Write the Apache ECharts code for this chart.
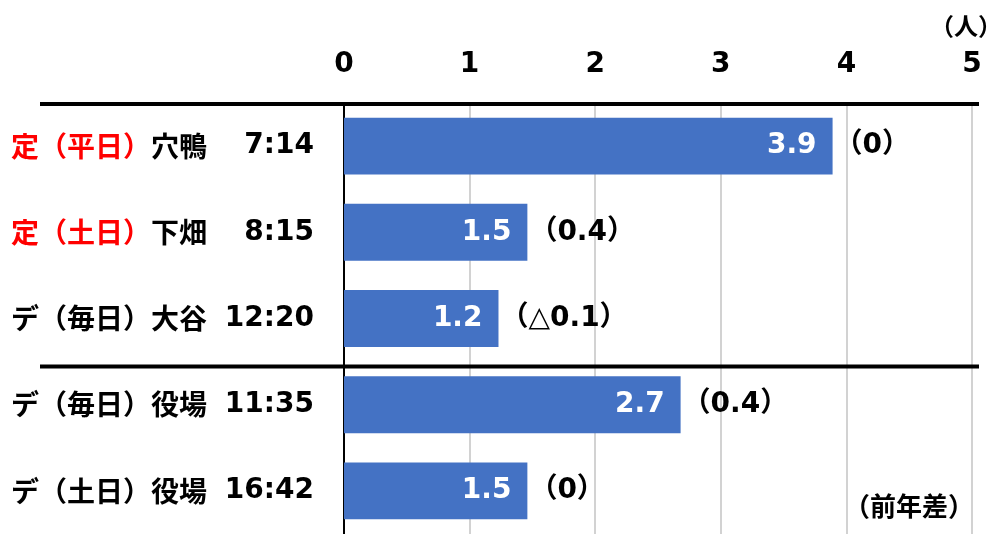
<!DOCTYPE html>
<html>
<head>
<meta charset="utf-8">
<script src="https://cdn.jsdelivr.net/npm/echarts@6/dist/echarts.min.js"></script>
<style>html,body{margin:0;padding:0;background:#fff;}#c{width:989px;height:534px;}</style>
</head>
<body>
<div id="c"></div>
<script>
const prefixes = ['定（平日）', '定（土日）', 'デ（毎日）', 'デ（毎日）', 'デ（土日）'];
const prefixRed = [true, true, false, false, false];
const places = ['穴鴨', '下畑', '大谷', '役場', '役場'];
const times = ['7:14', '8:15', '12:20', '11:35', '16:42'];
const values = [3.89, 1.46, 1.23, 2.68, 1.46];
const diffs = ['（0）', '（0.4）', '（△0.1）', '（0.4）', '（0）'];
const xTicks = [0, 1, 2, 3, 4, 5];
const unitText = '（人）';
const diffNote = '（前年差）';

const FONT = '"DejaVu Sans", "Noto Sans CJK JP", sans-serif';
const CJK = '"Noto Sans CJK JP", sans-serif';
const names = prefixes.map((p, i) => p + places[i]);

const chart = echarts.init(document.getElementById('c'), null, {renderer: 'canvas'});
const option = {
  animation: false,
  backgroundColor: '#ffffff',
  grid: {left: 344, right: 17, top: 103, bottom: 0, containLabel: false},
  xAxis: {
    type: 'value', position: 'top',
    min: xTicks[0], max: xTicks[xTicks.length - 1], interval: 1,
    axisLine: {show: false}, axisTick: {show: false},
    splitLine: {show: true, lineStyle: {color: '#C3C3C3', width: 1.5}},
    axisLabel: {margin: 24, color: '#000', fontSize: 28, fontWeight: 'bold', fontFamily: FONT}
  },
  yAxis: [{
    type: 'category', inverse: true, data: names, position: 'left',
    axisLine: {show: true, lineStyle: {color: '#000', width: 2}},
    axisTick: {show: false},
    axisLabel: {
      align: 'left', margin: 333,
      formatter: function (v, i) {
        return '{' + (prefixRed[i] ? 'r' : 'k') + '|' + prefixes[i] + '}{k|' + places[i] + '}';
      },
      rich: {
        r: {color: '#FF0000', fontSize: 28, fontWeight: 'bold', fontFamily: CJK},
        k: {color: '#000', fontSize: 28, fontWeight: 'bold', fontFamily: CJK}
      }
    }
  }, {
    type: 'category', inverse: true, data: times, position: 'left',
    axisLine: {show: false}, axisTick: {show: false},
    axisLabel: {margin: 30, color: '#000', fontSize: 28, fontWeight: 'bold', fontFamily: FONT}
  }],
  series: [{
    type: 'bar', yAxisIndex: 0, data: values, barCategoryGap: '34%',
    itemStyle: {color: '#4472C4'},
    label: {
      show: true, position: 'insideRight', distance: 16,
      color: '#fff', fontSize: 28, fontWeight: 'bold', fontFamily: FONT,
      formatter: p => p.value.toFixed(1)
    },
    z: 2
  }, {
    type: 'bar', yAxisIndex: 0, data: values, barGap: '-100%', barCategoryGap: '34%',
    itemStyle: {color: 'rgba(0,0,0,0)'},
    label: {
      show: true, position: 'right', distance: 2,
      color: '#000', fontSize: 28, fontWeight: 'bold', fontFamily: FONT,
      formatter: p => diffs[p.dataIndex]
    },
    z: 3
  }]
};
chart.setOption(option);

const p0 = chart.convertToPixel({yAxisIndex: 0}, names[0]);
const p1 = chart.convertToPixel({yAxisIndex: 0}, names[1]);
const p2 = chart.convertToPixel({yAxisIndex: 0}, names[2]);
const p3 = chart.convertToPixel({yAxisIndex: 0}, names[3]);
const band = p1 - p0;
const topY = p0 - band / 2 + 1;
const sepY = (p2 + p3) / 2 + 5;
const xEnd = chart.convertToPixel({xAxisIndex: 0}, xTicks[xTicks.length - 1]) + 7;
const lineStyle = {stroke: '#000', lineWidth: 4};
chart.setOption({
  graphic: [
    {type: 'line', shape: {x1: 40, y1: topY, x2: xEnd, y2: topY}, style: lineStyle, z: 10},
    {type: 'line', shape: {x1: 40, y1: sepY, x2: xEnd, y2: sepY}, style: lineStyle, z: 10},
    {type: 'text', x: 930, y: 26, style: {text: unitText, fill: '#000', font: 'bold 24px ' + CJK, textVerticalAlign: 'middle'}, z: 10},
    {type: 'text', x: 844, y: 506, style: {text: diffNote, fill: '#000', font: 'bold 26px ' + CJK, textVerticalAlign: 'middle'}, z: 10}
  ]
});
</script>
</body>
</html>
